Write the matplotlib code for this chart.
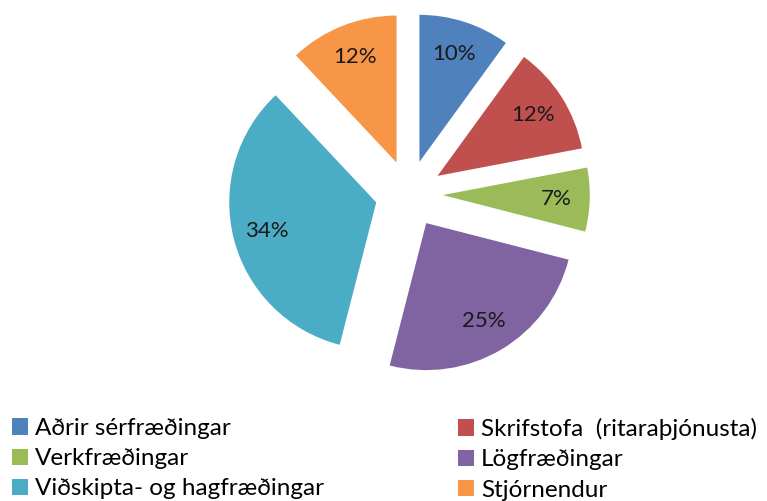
import numpy as np
import matplotlib.pyplot as plt
from matplotlib.patches import Patch

plt.rcParams['font.family'] = ['Lato', 'DejaVu Sans']

# データ
labels = ['Aðrir sérfræðingar', 'Skrifstofa  (ritaraþjónusta)', 'Verkfræðingar',
          'Lögfræðingar', 'Viðskipta- og hagfræðingar', 'Stjórnendur']
values = [10, 12, 7, 25, 34, 12]
colors = ['#4F81BD', '#C0504D', '#9BBB59', '#8064A2', '#4BACC6', '#F79646']

W, H = 767, 501
fig = plt.figure(figsize=(W / 100, H / 100), dpi=100)
ax = fig.add_axes([0, 0, 1, 1])

ax.pie(values, colors=colors, startangle=90, counterclock=False,
       explode=[0.23] * len(values), radius=1,
       autopct='%1.0f%%', pctdistance=0.77,
       textprops=dict(fontsize=16, color='#1a1a1a'),
       wedgeprops=dict(linewidth=0))

# 円の中心と半径（ピクセル）
cx, cy, r = 409, 194, 147
ax.set_aspect('auto')
ax.set_xlim(-cx / r, (W - cx) / r)
ax.set_ylim((cy - H) / r, cy / r)
ax.axis('off')

# 凡例（行ごとに左右）
handles = [Patch(facecolor=c, edgecolor='none') for c in colors]
kw = dict(frameon=False, fontsize=17.5, handlelength=0.65, handleheight=0.65,
          handletextpad=0.3, labelspacing=0.38, borderpad=0, borderaxespad=0,
          loc='upper left')
fig.legend(handles[0::2], labels[0::2], bbox_to_anchor=(12 / W, 1 - 418 / H), **kw)
fig.legend(handles[1::2], labels[1::2], bbox_to_anchor=(458 / W, 1 - 418 / H), **kw)

fig.savefig('out.png', dpi=100)
